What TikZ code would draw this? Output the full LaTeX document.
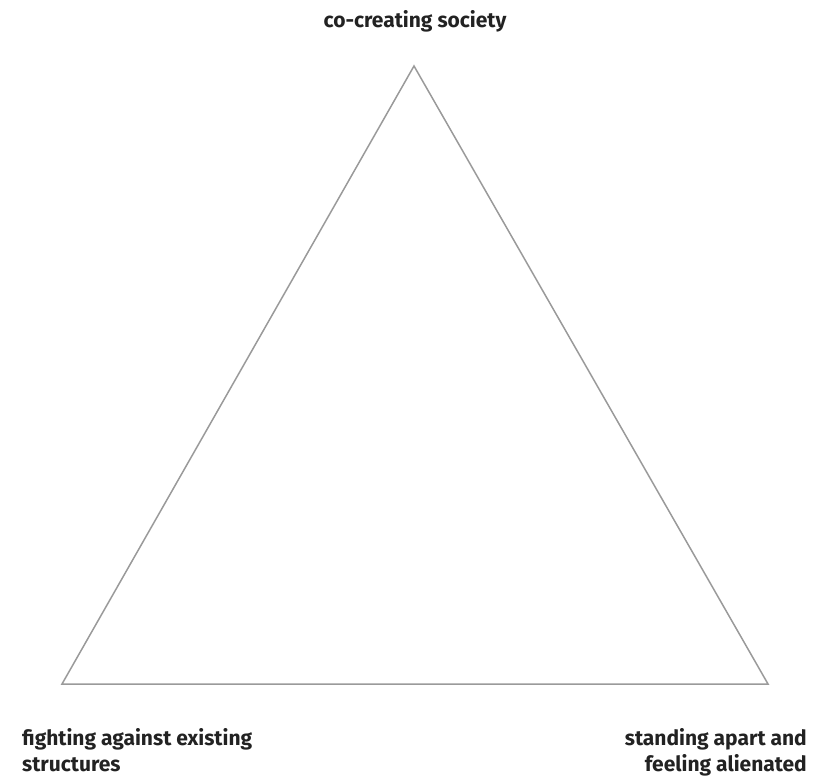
\documentclass[tikz,border=0pt]{standalone}
\usepackage{fontspec}
\setmainfont{Fira Sans}[UprightFont=* Bold, BoldFont=* Bold]
\definecolor{tri}{HTML}{9A9A9A}
\definecolor{txt}{HTML}{222222}
\begin{document}
\begin{tikzpicture}[x=1pt,y=-1pt,
  lbl/.style={font=\fontsize{21}{26}\selectfont, text=txt, inner sep=0pt},
  edge/.style={draw=tri, line width=1.5pt, line join=miter}]
\useasboundingbox (0,0) rectangle (832,777);
\coordinate (T) at (414,66);
\coordinate (L) at (62,684);
\coordinate (R) at (768,684);
\draw[edge] (T) -- (L) -- (R) -- cycle;
\node[lbl, anchor=base] (top) at (415,27) {co-creating society};
\node[lbl, anchor=base west, align=left] (bl) at (22,771) {fighting against existing\\structures};
\node[lbl, anchor=base east, align=right] (br) at (807,771) {standing apart and\\feeling alienated};
\end{tikzpicture}
\end{document}
